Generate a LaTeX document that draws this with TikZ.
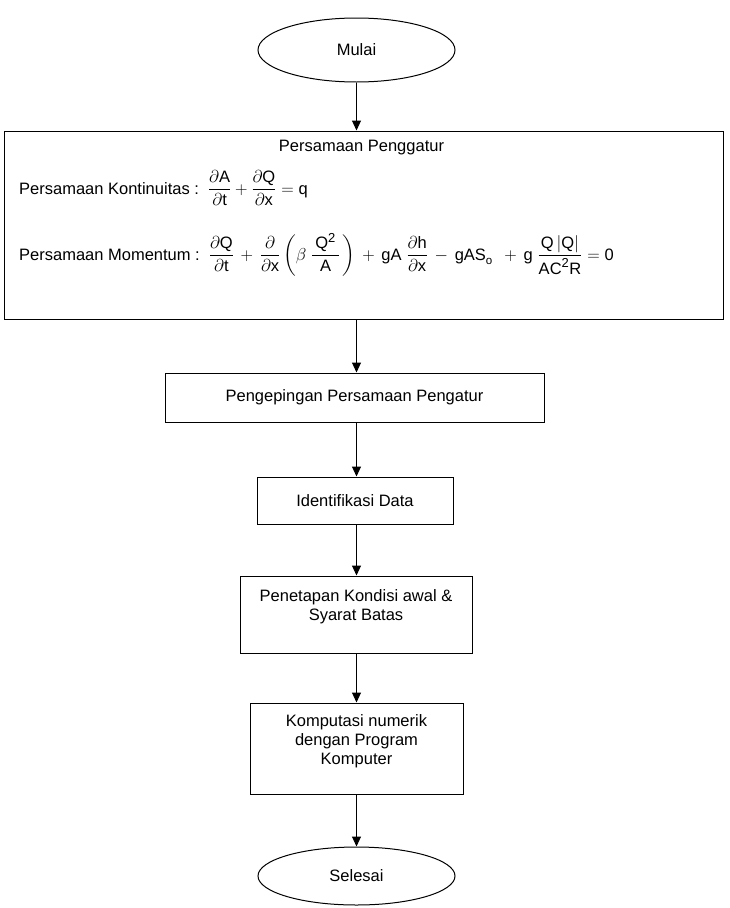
\documentclass[tikz,border=0pt]{standalone}
\usepackage{amsmath}
\usepackage{fontspec}
\setmainfont{Liberation Sans}
\usetikzlibrary{shapes.geometric,arrows.meta}
\newcommand\supsq{^{\text{\fontsize{13}{13}\selectfont 2}}}
\begin{document}
\begin{tikzpicture}[x=1pt,y=-1pt,
  every node/.style={font=\fontsize{16.5}{19}\selectfont, inner sep=0pt},
  box/.style={draw, line width=1pt, rectangle},
  oval/.style={draw, line width=1pt, ellipse},
  arr/.style={line width=1pt, -{Triangle[width=9pt,length=10pt]}},
  txt/.style={align=center}]
\useasboundingbox (0,0) rectangle (729,908);
% terminals
\node[oval, minimum width=197pt, minimum height=64pt] (mulai) at (356.5,50) {Mulai};
% box 1
\node[box, minimum width=719pt, minimum height=188pt] (eq) at (363.5,225) {};
\node (title) at (361.5,148) {Persamaan Penggatur};
\node[anchor=base west] (kont) at (19,194) {Persamaan Kontinuitas :\hspace{9pt}$\dfrac{\partial\mathrm{A}}{\partial\mathrm{t}}+\dfrac{\partial\mathrm{Q}}{\partial\mathrm{x}}=\mathrm{q}$};
\node[anchor=base west] (mom) at (19,260) {Persamaan Momentum :\hspace{9pt}$\medmuskip=7mu\dfrac{\partial\mathrm{Q}}{\partial\mathrm{t}}+\dfrac{\partial}{\partial\mathrm{x}}\left(\beta\;\dfrac{\,\mathrm{Q}\supsq\,}{\mathrm{A}}\,\right)+\mathrm{gA}\;\dfrac{\partial\mathrm{h}}{\partial\mathrm{x}}-\mathrm{gAS}_\mathrm{o}\;+\mathrm{g}\;\dfrac{\mathrm{Q}\left|\mathrm{Q}\right|}{\mathrm{AC}\supsq\mathrm{R}}=\mathrm{0}$};
% other boxes
\node[box, minimum width=379pt, minimum height=49pt] (peng) at (354.5,397.5) {Pengepingan Persamaan Pengatur};
\node[box, minimum width=196pt, minimum height=47pt] (ident) at (355,500.5) {Identifikasi Data};
\node[box, minimum width=232pt, minimum height=77pt] (kond) at (356,614.5) {};
\node[txt] (kondt) at (356,606.5) {Penetapan Kondisi awal \&\\Syarat Batas};
\node[box, minimum width=213pt, minimum height=91pt] (komp) at (356.5,748.5) {};
\node[txt] (kompt) at (356.5,741.5) {Komputasi numerik\\dengan Program\\Komputer};
\node[oval, minimum width=197pt, minimum height=58pt] (selesai) at (356.5,876) {Selesai};
% arrows
\draw[arr] (mulai.south) -- (mulai.south |- eq.north);
\draw[arr] (mulai.south |- eq.south) -- (mulai.south |- peng.north);
\draw[arr] (mulai.south |- peng.south) -- (mulai.south |- ident.north);
\draw[arr] (mulai.south |- ident.south) -- (mulai.south |- kond.north);
\draw[arr] (mulai.south |- kond.south) -- (mulai.south |- komp.north);
\draw[arr] (mulai.south |- komp.south) -- (selesai.north);
\end{tikzpicture}
\end{document}
